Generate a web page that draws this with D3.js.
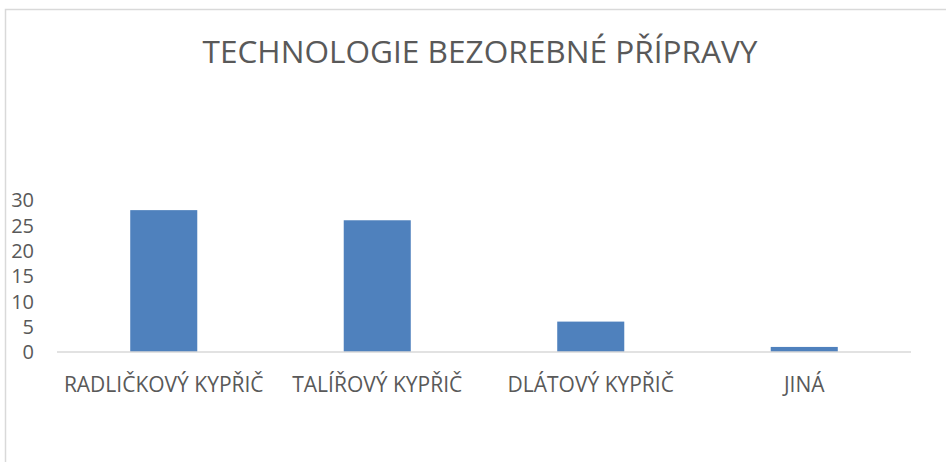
<!DOCTYPE html>
<html>
<head>
<meta charset="utf-8">
<script src="https://cdn.jsdelivr.net/npm/d3@7"></script>
<style>
  body { margin: 0; background: #fff; }
  text { font-family: "Open Sans", "DejaVu Sans", sans-serif; fill: #595959; }
</style>
</head>
<body>
<div id="chart"></div>
<script>
// chart data
var title = "TECHNOLOGIE BEZOREBNÉ PŘÍPRAVY";
var categories = ["RADLIČKOVÝ KYPŘIČ", "TALÍŘOVÝ KYPŘIČ", "DLÁTOVÝ KYPŘIČ", "JINÁ"];
var values = [28, 26, 6, 1];
var yTicks = [0, 5, 10, 15, 20, 25, 30];

var width = 946, height = 462;
var plot = { left: 57, right: 911, top: 200, bottom: 352 };

var svg = d3.select("#chart").append("svg")
  .attr("width", width)
  .attr("height", height);

// chart area border
svg.append("rect")
  .attr("x", 5.5).attr("y", 9.5)
  .attr("width", 1000).attr("height", 600)
  .attr("fill", "none")
  .attr("stroke", "#d9d9d9")
  .attr("stroke-width", 1.5);

var x = d3.scaleBand()
  .domain(categories)
  .range([plot.left, plot.right])
  .paddingInner(0.686)
  .paddingOuter(0.343);

var y = d3.scaleLinear()
  .domain([0, 30])
  .range([plot.bottom, plot.top]);

// bars
svg.selectAll(".bar")
  .data(values)
  .enter()
  .append("rect")
  .attr("class", "bar")
  .attr("x", function (d, i) { return x(categories[i]); })
  .attr("width", x.bandwidth())
  .attr("y", function (d) { return y(d); })
  .attr("height", function (d) { return y(0) - y(d); })
  .attr("fill", "#4f81bd");

// x axis line
svg.append("line")
  .attr("x1", plot.left).attr("x2", plot.right)
  .attr("y1", y(0)).attr("y2", y(0))
  .attr("stroke", "#d9d9d9")
  .attr("stroke-width", 1.5);

// y tick labels
svg.selectAll(".ytick")
  .data(yTicks)
  .enter()
  .append("text")
  .attr("class", "ytick")
  .attr("x", 34)
  .attr("y", function (d) { return y(d); })
  .attr("dy", "0.36em")
  .attr("text-anchor", "end")
  .style("font-size", "20px")
  .text(function (d) { return d; });

// category labels
svg.selectAll(".xlabel")
  .data(categories)
  .enter()
  .append("text")
  .attr("class", "xlabel")
  .attr("x", function (d) { return x(d) + x.bandwidth() / 2; })
  .attr("y", 392)
  .attr("text-anchor", "middle")
  .style("font-size", "21px")
  .text(function (d) { return d; });

// title, stretched to the width it has in the original
svg.append("text")
  .attr("x", 480)
  .attr("y", 63)
  .attr("text-anchor", "middle")
  .style("font-size", "31px")
  .attr("textLength", 555)
  .attr("lengthAdjust", "spacingAndGlyphs")
  .text(title);
</script>
</body>
</html>
